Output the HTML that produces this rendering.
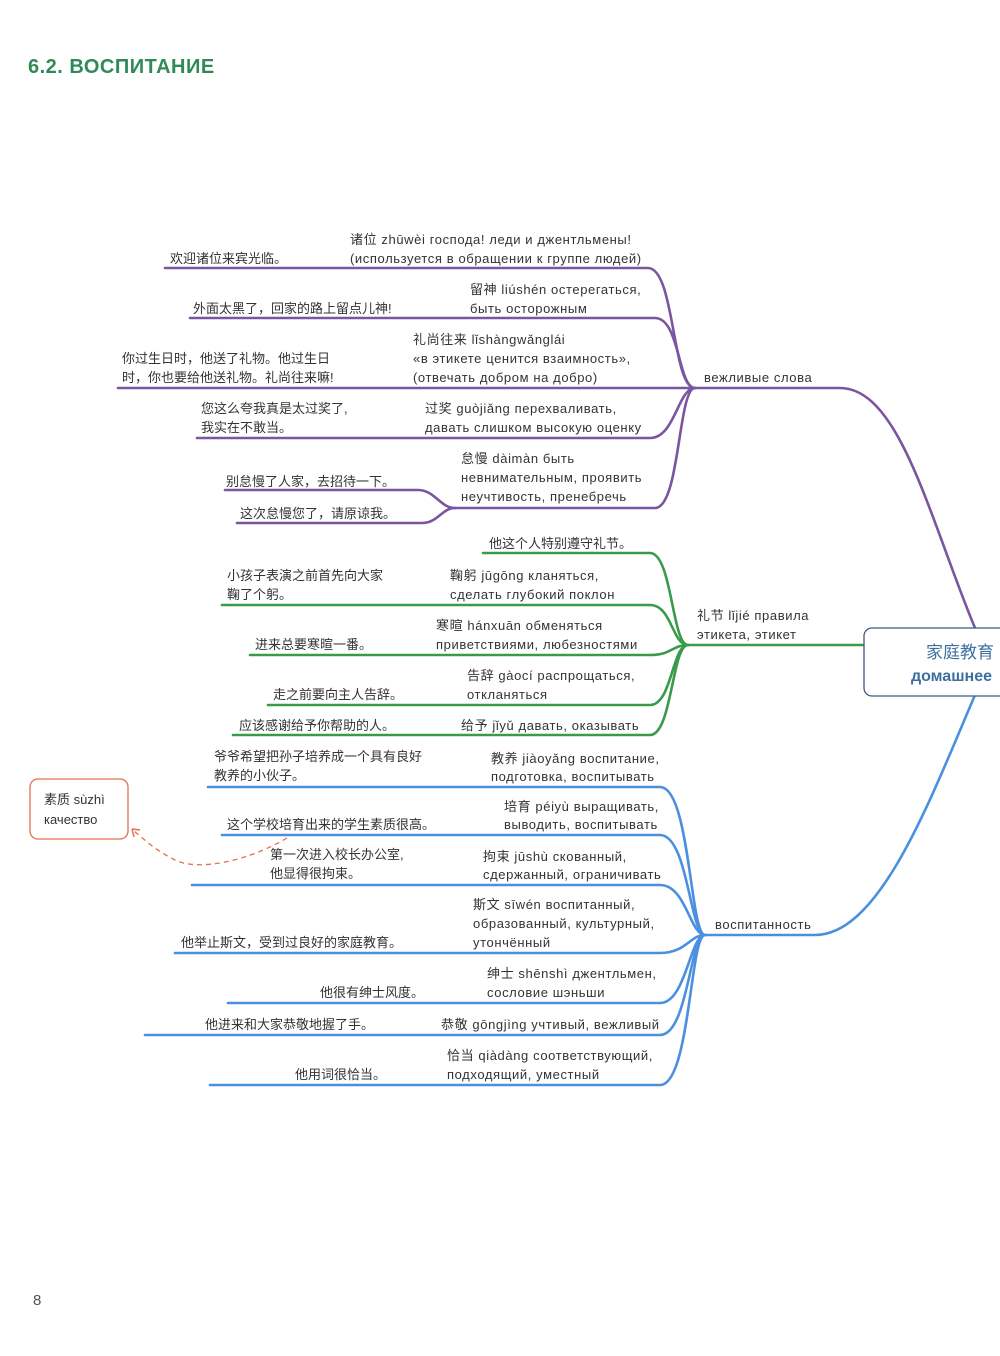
<!DOCTYPE html>
<html><head><meta charset="utf-8"><style>
body{margin:0;background:#fff;}
svg text{font-family:"Liberation Sans","Noto Sans CJK SC",sans-serif;font-size:13px;fill:#333;}
svg text.r{letter-spacing:0.6px;}
</style></head><body>
<svg width="1000" height="1351" viewBox="0 0 1000 1351" xmlns="http://www.w3.org/2000/svg">
<text x="28" y="73" style="font-size:20px;font-weight:bold;fill:#2e8b57;letter-spacing:0.5px">6.2. ВОСПИТАНИЕ</text>
<text x="33" y="1305" style="font-size:15px;fill:#555">8</text>

<!-- purple -->
<g fill="none" stroke="#7a55a0" stroke-width="2.6" stroke-linecap="round">
<path d="M165 268 H648 C675 268 672 388 695 388"/>
<path d="M190 318 H655 C680 318 678 388 695 388"/>
<path d="M118 388 H840 C900 388 930 520 975 628"/>
<path d="M197 438 H650 C675 438 678 388 695 388"/>
<path d="M455 508 H655 C680 508 678 388 695 388"/>
<path d="M225 490 H418 C435 490 440 508 455 508"/>
<path d="M237 523 H422 C438 523 442 508 455 508"/>
</g>
<!-- green -->
<g fill="none" stroke="#3a9a4c" stroke-width="2.6" stroke-linecap="round">
<path d="M483 553 H650 C672 553 672 645 688 645"/>
<path d="M222 605 H650 C672 605 672 645 688 645"/>
<path d="M250 655 H650 C672 655 672 645 688 645"/>
<path d="M268 705 H650 C672 705 672 645 688 645"/>
<path d="M233 735 H650 C672 735 672 645 688 645"/>
<path d="M688 645 H865"/>
</g>
<!-- blue -->
<g fill="none" stroke="#4a90e0" stroke-width="2.6" stroke-linecap="round">
<path d="M208 787 H660 C690 787 690 935 705 935"/>
<path d="M222 835 H660 C688 835 690 935 705 935"/>
<path d="M192 885 H660 C686 885 690 935 705 935"/>
<path d="M175 953 H660 C686 953 690 935 705 935"/>
<path d="M228 1003 H660 C686 1003 690 935 705 935"/>
<path d="M145 1035 H660 C688 1035 690 935 705 935"/>
<path d="M210 1085 H660 C690 1085 690 935 705 935"/>
<path d="M705 935 H815 C880 935 930 800 975 695"/>
</g>

<!-- central box -->
<rect x="864" y="628" width="150" height="68" rx="8" fill="#fff" stroke="#3b5a80" stroke-width="1.3"/>
<text x="994" y="658" text-anchor="end" style="font-size:17px;fill:#3d6f9e">家庭教育</text>
<text x="992" y="681" text-anchor="end" style="font-size:16px;font-weight:bold;fill:#3d6f9e">домашнее</text>

<!-- red box -->
<rect x="30" y="779" width="98" height="60" rx="8" fill="#fff" stroke="#e07050" stroke-width="1.3"/>
<text x="44" y="804">素质 sùzhì</text>
<text x="44" y="824">качество</text>
<path d="M287 838 C250 860 200 872 175 860 C155 850 145 840 134 831" fill="none" stroke="#e07050" stroke-width="1.3" stroke-dasharray="5,4"/>
<path d="M132 829 l8 1 M132 829 l2 8" stroke="#e07050" stroke-width="1.5" fill="none"/>

<!-- purple texts -->
<text class="r" x="350" y="244">诸位 zhūwèi господа! леди и джентльмены!</text>
<text class="r" x="350" y="263">(используется в обращении к группе людей)</text>
<text x="170" y="263">欢迎诸位来宾光临。</text>
<text class="r" x="470" y="294">留神 liúshén остерегаться,</text>
<text class="r" x="470" y="313">быть осторожным</text>
<text x="193" y="313">外面太黑了，回家的路上留点儿神!</text>
<text class="r" x="413" y="344">礼尚往来 lǐshàngwǎnglái</text>
<text class="r" x="413" y="363">«в этикете ценится взаимность»,</text>
<text class="r" x="413" y="382">(отвечать добром на добро)</text>
<text x="122" y="363">你过生日时，他送了礼物。他过生日</text>
<text x="122" y="382">时，你也要给他送礼物。礼尚往来嘛!</text>
<text class="r" x="704" y="382">вежливые слова</text>
<text class="r" x="425" y="413">过奖 guòjiǎng перехваливать,</text>
<text class="r" x="425" y="432">давать слишком высокую оценку</text>
<text x="201" y="413">您这么夸我真是太过奖了,</text>
<text x="201" y="432">我实在不敢当。</text>
<text class="r" x="461" y="463">怠慢 dàimàn быть</text>
<text class="r" x="461" y="482">невнимательным, проявить</text>
<text class="r" x="461" y="501">неучтивость, пренебречь</text>
<text x="226" y="486">别怠慢了人家，去招待一下。</text>
<text x="240" y="518">这次怠慢您了，请原谅我。</text>

<!-- green texts -->
<text x="489" y="548">他这个人特别遵守礼节。</text>
<text class="r" x="450" y="580">鞠躬 jūgōng кланяться,</text>
<text class="r" x="450" y="599">сделать глубокий поклон</text>
<text x="227" y="580">小孩子表演之前首先向大家</text>
<text x="227" y="599">鞠了个躬。</text>
<text class="r" x="697" y="620">礼节 lǐjié правила</text>
<text class="r" x="697" y="639">этикета, этикет</text>
<text class="r" x="436" y="630">寒暄 hánxuān обменяться</text>
<text class="r" x="436" y="649">приветствиями, любезностями</text>
<text x="255" y="649">进来总要寒暄一番。</text>
<text class="r" x="467" y="680">告辞 gàocí распрощаться,</text>
<text class="r" x="467" y="699">откланяться</text>
<text x="273" y="699">走之前要向主人告辞。</text>
<text class="r" x="461" y="730">给予 jǐyǔ давать, оказывать</text>
<text x="239" y="730">应该感谢给予你帮助的人。</text>

<!-- blue texts -->
<text x="214" y="761">爷爷希望把孙子培养成一个具有良好</text>
<text x="214" y="780">教养的小伙子。</text>
<text class="r" x="491" y="763">教养 jiàoyǎng воспитание,</text>
<text class="r" x="491" y="781">подготовка, воспитывать</text>
<text class="r" x="504" y="811">培育 péiyù выращивать,</text>
<text class="r" x="504" y="829">выводить, воспитывать</text>
<text x="227" y="829">这个学校培育出来的学生素质很高。</text>
<text x="270" y="859">第一次进入校长办公室,</text>
<text x="270" y="878">他显得很拘束。</text>
<text class="r" x="483" y="861">拘束 jūshù скованный,</text>
<text class="r" x="483" y="879">сдержанный, ограничивать</text>
<text class="r" x="473" y="909">斯文 sīwén воспитанный,</text>
<text class="r" x="473" y="928">образованный, культурный,</text>
<text class="r" x="473" y="947">утончённый</text>
<text x="181" y="947">他举止斯文，受到过良好的家庭教育。</text>
<text class="r" x="715" y="929">воспитанность</text>
<text class="r" x="487" y="978">绅士 shēnshì джентльмен,</text>
<text class="r" x="487" y="997">сословие шэньши</text>
<text x="320" y="997">他很有绅士风度。</text>
<text class="r" x="441" y="1029">恭敬 gōngjìng учтивый, вежливый</text>
<text x="205" y="1029">他进来和大家恭敬地握了手。</text>
<text class="r" x="447" y="1060">恰当 qiàdàng соответствующий,</text>
<text class="r" x="447" y="1079">подходящий, уместный</text>
<text x="295" y="1079">他用词很恰当。</text>
</svg>
</body></html>
